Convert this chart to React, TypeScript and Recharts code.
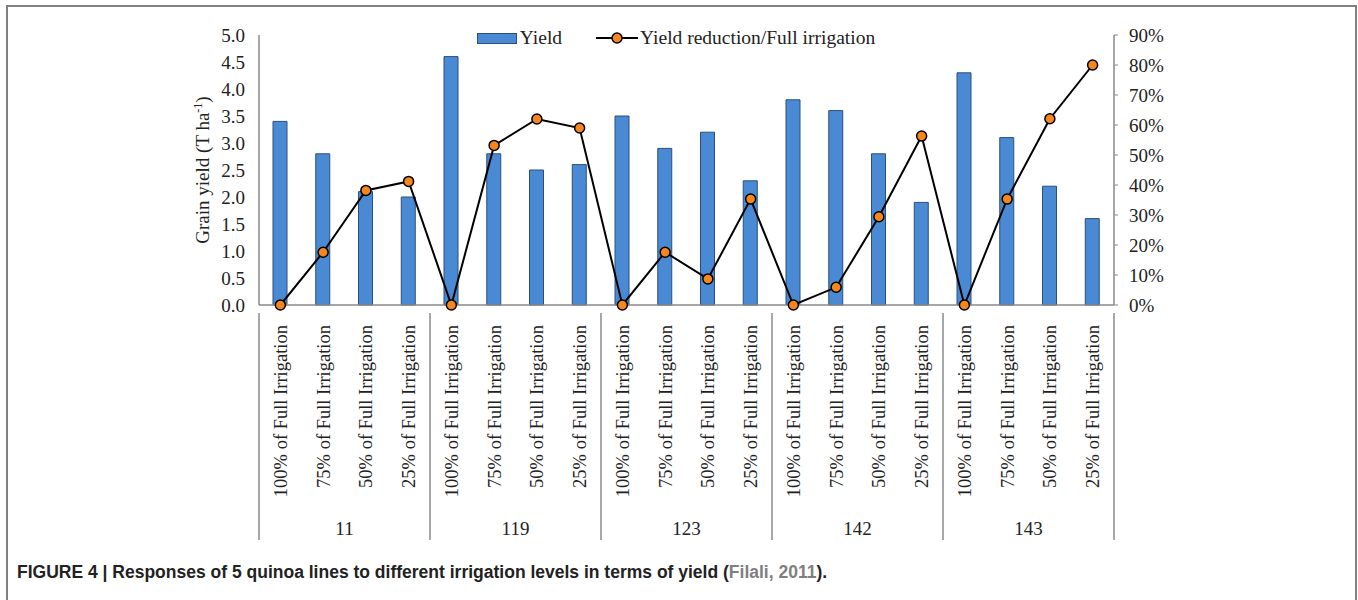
import { ComposedChart, Bar, Line, XAxis, YAxis, Legend } from 'recharts';

const LINES = ['11', '119', '123', '142', '143'];
const LEVELS = ['100% of Full Irrigation', '75% of Full Irrigation', '50% of Full Irrigation', '25% of Full Irrigation'];

// grain yield, T/ha (4 levels per quinoa line)
const YIELD = [
  3.4, 2.8, 2.1, 2.0,
  4.6, 2.8, 2.5, 2.6,
  3.5, 2.9, 3.2, 2.3,
  3.8, 3.6, 2.8, 1.9,
  4.3, 3.1, 2.2, 1.6,
];
// yield reduction vs full irrigation, %
const REDUCTION = [
  0, 17.6, 38.2, 41.2,
  0, 53.2, 62.0, 59.0,
  0, 17.6, 8.7, 35.3,
  0, 5.9, 29.4, 56.3,
  0, 35.3, 62.1, 80.0,
];
const YIELD_TICKS = [0, 0.5, 1, 1.5, 2, 2.5, 3, 3.5, 4, 4.5, 5];
const PCT_TICKS = [0, 10, 20, 30, 40, 50, 60, 70, 80, 90];

const W = 1358;
const H = 545;
const TOP = 35;
const LEFT_W = 259;
const RIGHT_W = 244;
const X_H = 240;
const AXIS_GRAY = '#8a8a8a';
const SERIF = '"Liberation Serif", "Times New Roman", serif';

const data = LINES.flatMap((line, g) =>
  LEVELS.map((level, i) => ({
    id: `${line}|${level}`,
    line,
    level,
    yield: YIELD[g * 4 + i],
    reduction: REDUCTION[g * 4 + i],
  }))
);

const band = (W - LEFT_W - RIGHT_W) / data.length;

function CategoryTick(props: any) {
  const { x, y, index } = props;
  const d = data[index];
  if (!d) return null;
  const i = index % 4;
  const lineBottom = y + 227;
  return (
    <g>
      <text
        x={x}
        y={y + 12}
        transform={`rotate(-90, ${x}, ${y + 12})`}
        textAnchor="end"
        dy="0.35em"
        fontFamily={SERIF}
        fontSize={18.5}
        fill="#222"
      >
        {d.level}
      </text>
      {i === 0 && (
        <line x1={x - band / 2} x2={x - band / 2} y1={y} y2={lineBottom} stroke={AXIS_GRAY} strokeWidth={1.5} />
      )}
      {index === data.length - 1 && (
        <line x1={x + band / 2} x2={x + band / 2} y1={y} y2={lineBottom} stroke={AXIS_GRAY} strokeWidth={1.5} />
      )}
      {i === 1 && (
        <text x={x + band / 2} y={y + 222} textAnchor="middle" fontFamily={SERIF} fontSize={19} fill="#222">
          {d.line}
        </text>
      )}
    </g>
  );
}

function YLabel(props: any) {
  const { viewBox } = props;
  const cx = viewBox.x + viewBox.width - 50;
  const cy = viewBox.y + viewBox.height / 2;
  return (
    <text
      x={cx}
      y={cy}
      transform={`rotate(-90, ${cx}, ${cy})`}
      textAnchor="middle"
      fontFamily={SERIF}
      fontSize={19}
      fill="#222"
    >
      <tspan>Grain yield (T ha</tspan>
      <tspan dy={-7} fontSize={12}>-1</tspan>
      <tspan dy={7}>)</tspan>
    </text>
  );
}

function ChartLegend() {
  return (
    <div style={{ display: 'flex', justifyContent: 'center', alignItems: 'center', fontFamily: SERIF, fontSize: 19.5, color: '#222' }}>
      <span style={{ display: 'inline-block', width: 38, height: 9, background: '#4a8ad4', border: '1px solid #2b4f7a', marginRight: 3 }} />
      <span style={{ marginRight: 34 }}>Yield</span>
      <svg width={42} height={14} style={{ marginRight: 2 }}>
        <line x1={0} x2={42} y1={7} y2={7} stroke="#000" strokeWidth={2} />
        <circle cx={21} cy={7} r={5} fill="#f7861c" stroke="#000" strokeWidth={1.5} />
      </svg>
      <span>Yield reduction/Full irrigation</span>
    </div>
  );
}

export default function App() {
  return (
    <div style={{ position: 'absolute', left: 0, top: 0, width: W, height: 600, background: '#fff' }}>
      <div
        style={{
          position: 'absolute', left: 6, top: 5, width: 1347, height: 620,
          borderLeft: '2px solid #808080', borderTop: '2px solid #808080', borderRight: '2px solid #808080',
        }}
      />
      <div style={{ position: 'absolute', left: 0, top: 0 }}>
        <ComposedChart width={W} height={H} data={data} margin={{ top: TOP, right: 0, bottom: 0, left: 0 }} barCategoryGap={0}>
          <XAxis
            dataKey="id"
            height={X_H}
            interval={0}
            tickLine={false}
            axisLine={{ stroke: AXIS_GRAY, strokeWidth: 1.5 }}
            tick={<CategoryTick />}
          />
          <YAxis
            yAxisId="left"
            width={LEFT_W}
            domain={[0, 5]}
            ticks={YIELD_TICKS}
            interval={0}
            tickFormatter={(v: number) => v.toFixed(1)}
            tickLine={false}
            tickSize={6}
            tickMargin={8}
            axisLine={{ stroke: AXIS_GRAY, strokeWidth: 1.5 }}
            tick={{ fontFamily: SERIF, fontSize: 19, fill: '#222' }}
            label={<YLabel />}
          />
          <YAxis
            yAxisId="right"
            orientation="right"
            width={RIGHT_W}
            domain={[0, 90]}
            ticks={PCT_TICKS}
            interval={0}
            tickFormatter={(v: number) => `${v}%`}
            tickSize={4}
            tickMargin={11}
            tickLine={{ stroke: AXIS_GRAY }}
            axisLine={{ stroke: AXIS_GRAY, strokeWidth: 1.5 }}
            tick={{ fontFamily: SERIF, fontSize: 19, fill: '#222' }}
          />
          <Legend
            layout="horizontal"
            verticalAlign="middle"
            align="center"
            content={<ChartLegend />}
            wrapperStyle={{ top: 27, left: -3, width: W }}
          />
          <Bar
            yAxisId="left"
            dataKey="yield"
            name="Yield"
            barSize={14}
            fill="#4a8ad4"
            stroke="#2b4f7a"
            strokeWidth={1}
            isAnimationActive={false}
          />
          <Line
            yAxisId="right"
            dataKey="reduction"
            name="Yield reduction/Full irrigation"
            stroke="#000"
            strokeWidth={2}
            dot={{ r: 5, fill: '#f7861c', stroke: '#000', strokeWidth: 1.5 }}
            isAnimationActive={false}
          />
        </ComposedChart>
      </div>
      <div
        style={{
          position: 'absolute', left: 17, top: 562,
          fontFamily: '"Liberation Sans", Arial, sans-serif', fontWeight: 'bold', fontSize: 17.5, color: '#222',
        }}
      >
        FIGURE 4 | Responses of 5 quinoa lines to different irrigation levels in terms of yield (
        <span style={{ color: '#7f7f7f' }}>Filali, 2011</span>).
      </div>
    </div>
  );
}
